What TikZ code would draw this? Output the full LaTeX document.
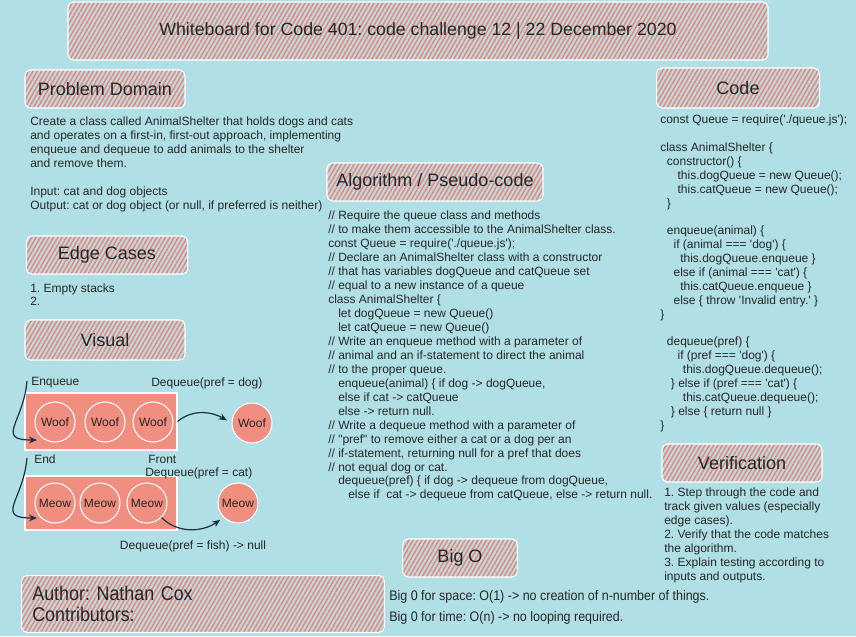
\documentclass[tikz,border=0pt]{standalone}
\usepackage{fontspec}
\setmainfont{Liberation Sans}[Ligatures=TeXOff]
\newfontfamily\narrowfont{Liberation Sans}[FakeStretch=0.9]
\usetikzlibrary{patterns.meta,arrows.meta}
\definecolor{boardbg}{RGB}{176,224,230}
\definecolor{hatchred}{RGB}{246,128,116}
\definecolor{queuefill}{RGB}{240,142,128}
\definecolor{arrowink}{RGB}{28,48,66}
\frenchspacing
\begin{document}
\begin{tikzpicture}[
    x=0.75pt, y=-0.75pt,
    hatchbox/.style={rectangle, rounded corners=4pt, draw=white, line width=0.8pt,
        pattern={Lines[angle=60, distance=2.8pt, line width=1.1pt]}, pattern color=hatchred,
        font=\fontsize{13.5}{15}\selectfont, text=black!85},
    body/.style={font=\fontsize{9}{10.5}\selectfont, align=left, anchor=north west, inner sep=0pt, text=black!85},
    note/.style={font=\fontsize{9}{10.5}\selectfont, inner sep=0pt, text=black!85},
    queuebox/.style={rectangle, fill=queuefill, draw=white, line width=0.8pt, minimum width=114pt, minimum height=42.75pt},
    pet/.style={circle, draw=white, line width=0.8pt, minimum size=30pt, inner sep=0pt, font=\fontsize{9}{10.5}\selectfont, text=black!85},
    flow/.style={-{Stealth[length=6pt,width=5pt]}, arrowink, line width=0.9pt}
]
\useasboundingbox (0,0) rectangle (856,636);
\fill[boardbg] (0,0) rectangle (856,636);

% === TITLE ===
\node[hatchbox, minimum width=525pt, minimum height=43.5pt, font=\fontsize{13.3}{15}\selectfont] (title) at (418,31)
    {Whiteboard for Code 401: code challenge 12 | 22 December 2020};

% === PROBLEM DOMAIN ===
\node[hatchbox, minimum width=120pt, minimum height=28.5pt] (domainhead) at (105,89) {Problem Domain};
\node[body] (domaintxt) at (30,117) {Create a class called AnimalShelter that holds dogs and cats\\
and operates on a first-in, first-out approach, implementing\\
enqueue and dequeue to add animals to the shelter\\
and remove them.\\[10pt]
Input: cat and dog objects\\
Output: cat or dog object (or null, if preferred is neither)};

% === EDGE CASES ===
\node[hatchbox, minimum width=121pt, minimum height=28.5pt] (edgehead) at (107,255) {Edge Cases};
\node[body, font=\fontsize{9}{9.75}\selectfont] (edgetxt) at (30,284) {1. Empty stacks\\ 2.};

% === VISUAL ===
\node[hatchbox, minimum width=120pt, minimum height=30pt] (visualhead) at (105,340) {Visual};

% dog queue
\node[queuebox] (dogq) at (101,421.5) {};
\node[pet] (woof1) at (55,422) {Woof};
\node[pet] (woof2) at (105,422) {Woof};
\node[pet] (woof3) at (153,422) {Woof};
\node[pet, fill=queuefill] (woofout) at (252,423) {Woof};
\node[note, anchor=west] (enqlbl) at (31,383) {Enqueue};
\node[note, anchor=west] (doglbl) at (151,383) {Dequeue(pref = dog)};

% cat queue
\node[queuebox, minimum height=40.5pt] (catq) at (101,503) {};
\node[pet] (meow1) at (55,503) {Meow};
\node[pet] (meow2) at (100,503) {Meow};
\node[pet] (meow3) at (147,503) {Meow};
\node[pet, fill=queuefill] (meowout) at (238,503) {Meow};
\node[note, anchor=west] (endlbl) at (34,459) {End};
\node[note, anchor=west] (frontlbl) at (148,459) {Front};
\node[note, anchor=west] (catlbl) at (145,473) {Dequeue(pref = cat)};
\node[note] (fishlbl) at (193,546) {Dequeue(pref = fish) -> null};

% arrows
\coordinate (dogin) at (27,381);
\coordinate (dogtip) at (37,440);
\coordinate (catin) at (27,458);
\coordinate (cattip) at (37,518);
\draw[flow] (dogin) to[out=-95, in=180, looseness=1.8] (dogtip);
\draw[flow] (catin) to[out=-95, in=180, looseness=1.8] (cattip);
\draw[flow, shorten >=4pt] (dogq.east) to[out=40, in=150] (woofout.west);
\draw[flow, shorten >=3pt] (meow3.south east) to[out=-45, in=-145] (meowout.south west);

% === ALGORITHM ===
\node[hatchbox, minimum width=162pt, minimum height=28.5pt] (algohead) at (435,182) {Algorithm / Pseudo-code};
\node[body, font=\fontsize{9}{10.46}\selectfont] (algotxt) at (328,211) {// Require the queue class and methods\\
// to make them accessible to the AnimalShelter class.\\
const Queue = require('./queue.js');\\
// Declare an AnimalShelter class with a constructor\\
// that has variables dogQueue and catQueue set\\
// equal to a new instance of a queue\\
class AnimalShelter \{\\
\hspace*{7.5pt}let dogQueue = new Queue()\\
\hspace*{7.5pt}let catQueue = new Queue()\\
// Write an enqueue method with a parameter of\\
// animal and an if-statement to direct the animal\\
// to the proper queue.\\
\hspace*{7.5pt}enqueue(animal) \{ if dog -> dogQueue,\\
\hspace*{7.5pt}else if cat -> catQueue\\
\hspace*{7.5pt}else -> return null.\\
// Write a dequeue method with a parameter of\\
// "pref" to remove either a cat or a dog per an\\
// if-statement, returning null for a pref that does\\
// not equal dog or cat.\\
\hspace*{7.5pt}dequeue(pref) \{ if dog -> dequeue from dogQueue,\\
\hspace*{15pt}else if\ \ cat -> dequeue from catQueue, else -> return null.};

% === CODE ===
\node[hatchbox, minimum width=122pt, minimum height=30pt] (codehead) at (738,88) {Code};
\node[body] (codetxt) at (660,115) {const Queue = require('./queue.js');\\[10pt]
class AnimalShelter \{\\
\hspace*{5pt}constructor() \{\\
\hspace*{13pt}this.dogQueue = new Queue();\\
\hspace*{13pt}this.catQueue = new Queue();\\
\hspace*{5pt}\}\\[10pt]
\hspace*{5pt}enqueue(animal) \{\\
\hspace*{10pt}if (animal === 'dog') \{\\
\hspace*{15pt}this.dogQueue.enqueue \}\\
\hspace*{10pt}else if (animal === 'cat') \{\\
\hspace*{15pt}this.catQueue.enqueue \}\\
\hspace*{10pt}else \{ throw 'Invalid entry.' \}\\
\}\\[10pt]
\hspace*{5pt}dequeue(pref) \{\\
\hspace*{13pt}if (pref === 'dog') \{\\
\hspace*{17pt}this.dogQueue.dequeue();\\
\hspace*{8pt}\} else if (pref === 'cat') \{\\
\hspace*{17pt}this.catQueue.dequeue();\\
\hspace*{8pt}\} else \{ return null \}\\
\}};

% === VERIFICATION ===
\node[hatchbox, minimum width=120pt, minimum height=28.5pt] (verifyhead) at (742,463) {Verification};
\node[body] (verifytxt) at (664,488) {1. Step through the code and\\
track given values (especially\\
edge cases).\\
2. Verify that the code matches\\
the algorithm.\\
3. Explain testing according to\\
inputs and outputs.};

% === BIG O ===
\node[hatchbox, minimum width=86pt, minimum height=28.5pt] (bigohead) at (460,558) {Big O};
\node[body, font=\narrowfont\fontsize{10.4}{15.75}\selectfont] (bigotxt) at (389,590)
    {Big 0 for space: O(1) -> no creation of n-number of things.\\
Big 0 for time: O(n) -> no looping required.};

% === AUTHOR ===
\node[hatchbox, minimum width=272pt, minimum height=42pt, inner sep=8pt, text width=256pt, align=left,
    font=\narrowfont\fontsize{14.9}{15.75}\selectfont] (authorbox) at (203,604)
    {Author: Nathan Cox\\ Contributors:};

\end{tikzpicture}
\end{document}
